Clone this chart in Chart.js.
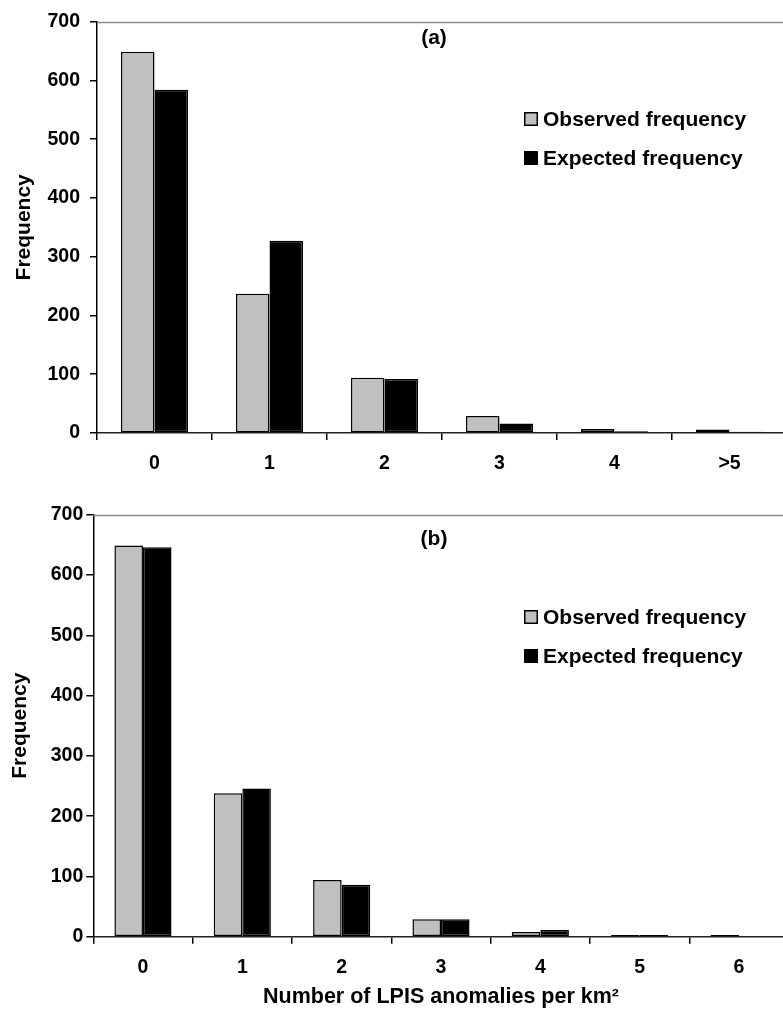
<!DOCTYPE html>
<html>
<head>
<meta charset="utf-8">
<script src="https://cdn.jsdelivr.net/npm/chart.js@4/dist/chart.umd.min.js"></script>
<style>
html,body{margin:0;padding:0;overflow:hidden;background:#fff;}
#wrap{position:relative;width:800px;height:1016px;}
.c{position:absolute;left:0;width:800px;}
</style>
</head>
<body>
<div id="wrap">
  <div class="c" style="top:0;height:500px"><canvas id="ca" width="800" height="500"></canvas></div>
  <div class="c" style="top:500px;height:516px"><canvas id="cb" width="800" height="516"></canvas></div>
</div>
<script>
// ---- data ----
const categoriesA = ['0', '1', '2', '3', '4', '>5'];
const observedA  = [649, 237, 94, 29, 7, 6];
const expectedA  = [584, 327, 92, 16, 3, 2];

const categoriesB = ['0', '1', '2', '3', '4', '5', '6'];
const observedB  = [649, 238, 94, 29, 8, 3, 3];
const expectedB  = [646, 246, 86, 29, 11, 3, 0];

const seriesNames = ['Observed frequency', 'Expected frequency'];
const panelLabels = ['(a)', '(b)'];
const yTitleText = 'Frequency';
const xTitleText = 'Number of LPIS anomalies per km\u00B2';
const yMin = 0, yMax = 700, yStep = 100;

// ---- styling ----
const FONT = '"Liberation Sans", Arial, sans-serif';
Chart.defaults.font.family = FONT;
Chart.defaults.font.weight = 'bold';
Chart.defaults.color = '#000';

const decor = {
  id: 'decor',
  beforeDatasetsDraw(chart, args, o) {
    const {ctx, chartArea: a} = chart;
    ctx.save();
    ctx.strokeStyle = o.frameColor;
    ctx.lineWidth = 1.5;
    ctx.beginPath();
    ctx.moveTo(a.left, Math.round(a.top) + 0.5);
    ctx.lineTo(a.right, Math.round(a.top) + 0.5);
    ctx.stroke();
    ctx.restore();
  },
  afterDraw(chart, args, o) {
    const ctx = chart.ctx;
    ctx.save();
    ctx.font = 'bold ' + o.fontSize + 'px ' + FONT;
    ctx.fillStyle = '#000';
    ctx.textBaseline = 'middle';
    ctx.textAlign = 'center';
    ctx.fillText(o.label, o.labelX, o.labelY);
    ctx.textAlign = 'left';
    chart.data.datasets.forEach((ds, i) => {
      const y = o.legendY + i * o.legendGap;
      const s = o.boxSize;
      ctx.fillStyle = ds.backgroundColor;
      ctx.fillRect(o.legendX, Math.round(y - s / 2), s, s);
      ctx.strokeStyle = '#000';
      ctx.lineWidth = 1.5;
      ctx.strokeRect(o.legendX + 0.75, Math.round(y - s / 2) + 0.75, s - 1.5, s - 1.5);
      ctx.fillStyle = '#000';
      ctx.fillText(ds.label, o.legendX + s + 5, y + 1);
    });
    ctx.restore();
  }
};

function makeChart(id, cats, obs, exp, cfg) {
  return new Chart(document.getElementById(id), {
    type: 'bar',
    data: {
      labels: cats,
      datasets: [
        { label: seriesNames[0], data: obs, backgroundColor: '#C0C0C0', borderColor: '#000', borderWidth: 1.5, borderSkipped: false },
        { label: seriesNames[1], data: exp, backgroundColor: '#000000', borderColor: '#000', borderWidth: 1.5, borderSkipped: false }
      ]
    },
    plugins: [decor],
    options: {
      responsive: false,
      devicePixelRatio: 1,
      animation: false,
      layout: { padding: { left: 0, top: cfg.top, right: cfg.right, bottom: 0 } },
      datasets: { bar: { categoryPercentage: cfg.catPct, barPercentage: 1.0 } },
      plugins: {
        legend: { display: false },
        tooltip: { enabled: false },
        decor: {
          frameColor: '#8a8a8a',
          fontSize: 21,
          label: cfg.label, labelX: cfg.labelX, labelY: cfg.labelY,
          legendX: 524, legendY: cfg.legendY, legendGap: 39, boxSize: 14
        }
      },
      scales: {
        x: {
          grid: { offset: true, drawOnChartArea: false, drawTicks: true, tickLength: 7, color: '#000', lineWidth: 1.5 },
          border: { display: true, color: '#222', width: 1.5 },
          ticks: { font: { size: 19.5, weight: 'bold' }, padding: cfg.xPad, autoSkip: false, maxRotation: 0 },
          title: cfg.xTitle ? { display: true, text: xTitleText, font: { size: 21.5, weight: 'bold' }, padding: { top: 0, bottom: cfg.xTitlePad } } : { display: false },
          afterFit(scale) { scale.height = cfg.xHeight; }
        },
        y: {
          min: yMin, max: yMax,
          grid: { drawOnChartArea: false, drawTicks: true, tickLength: 7, color: '#000', lineWidth: 1.5 },
          border: { display: true, color: '#000', width: 1.5 },
          ticks: { stepSize: yStep, font: { size: 19.5, weight: 'bold' }, padding: cfg.yPad },
          title: { display: true, text: yTitleText, font: { size: 21, weight: 'bold' }, padding: { top: cfg.yTitlePad, bottom: 0 } },
          afterFit(scale) { scale.width = cfg.yWidth; }
        }
      }
    }
  });
}

makeChart('ca', categoriesA, observedA, expectedA, {
  top: 16, right: 13, catPct: 0.583, xPad: 12, xHeight: 67, xTitle: false,
  yPad: 10, yTitlePad: 12, yWidth: 97,
  label: panelLabels[0], labelX: 434, labelY: 38, legendY: 119
});

makeChart('cb', categoriesB, observedB, expectedB, {
  top: 14.3, right: 11.3, catPct: 0.575, xPad: 12, xHeight: 79.3, xTitle: true, xTitlePad: 6,
  yPad: 3, yTitlePad: 8, yWidth: 93.3,
  label: panelLabels[1], labelX: 434, labelY: 39, legendY: 117
});
</script>
</body>
</html>
